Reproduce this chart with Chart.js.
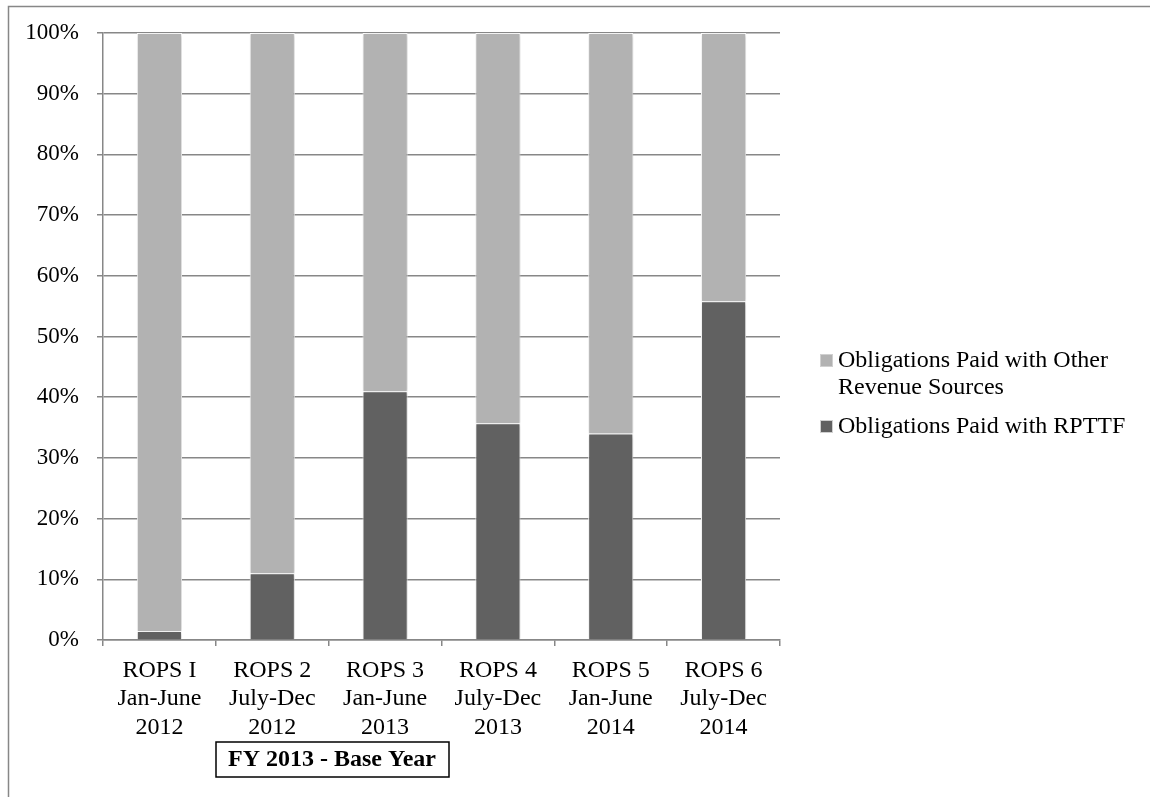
<!DOCTYPE html>
<html>
<head>
<meta charset="utf-8">
<script src="https://cdn.jsdelivr.net/npm/chart.js@4/dist/chart.umd.min.js"></script>
<style>
  body { margin: 0; background: #fff; }
  #wrap { width: 1150px; height: 797px; }
</style>
</head>
<body>
<div id="wrap"><canvas id="myChart" width="1150" height="797"></canvas></div>
<script>
// chart data
var categories = [
    ['ROPS I', 'Jan-June', '2012'],
    ['ROPS 2', 'July-Dec', '2012'],
    ['ROPS 3', 'Jan-June', '2013'],
    ['ROPS 4', 'July-Dec', '2013'],
    ['ROPS 5', 'Jan-June', '2014'],
    ['ROPS 6', 'July-Dec', '2014']
];
var rpttfShare = [1.5, 11, 41, 35.7, 34, 55.8];
var otherShare = [98.5, 89, 59, 64.3, 66, 44.2];
var seriesNames = ['Obligations Paid with RPTTF', 'Obligations Paid with Other Revenue Sources'];
var yTicks = [0, 10, 20, 30, 40, 50, 60, 70, 80, 90, 100];
var noteText = 'FY 2013 - Base Year';

var serif = "'Liberation Serif', 'Times New Roman', serif";
var gridGray = '#878787';

// soft shadow behind the bars
var barShadow = {
    id: 'barShadow',
    beforeDatasetsDraw: function(chart) {
        var c = chart.ctx;
        c.save();
        c.shadowColor = 'rgba(0,0,0,0.22)';
        c.shadowBlur = 4;
        c.shadowOffsetX = 1;
        c.shadowOffsetY = 1;
    },
    afterDatasetsDraw: function(chart) {
        chart.ctx.restore();
    }
};

// outer frame, legend on the right and the base-year box
var extras = {
    id: 'extras',
    afterDraw: function(chart) {
        var c = chart.ctx;
        c.save();
        // frame
        c.strokeStyle = gridGray;
        c.lineWidth = 1.5;
        c.strokeRect(8.5, 6.5, 1160, 820);

        // legend (other first, then RPTTF)
        c.font = '24px ' + serif;
        c.fillStyle = '#000';
        c.textBaseline = 'middle';
        c.textAlign = 'left';
        var order = [1, 0];
        var y = 361;
        order.forEach(function(idx) {
            var ds = chart.data.datasets[idx];
            var words = ds.label.split(' ');
            var lines = [], cur = '';
            words.forEach(function(w) {
                var t = cur ? cur + ' ' + w : w;
                if (c.measureText(t).width > 300 && cur) { lines.push(cur); cur = w; }
                else cur = t;
            });
            lines.push(cur);
            c.fillStyle = ds.backgroundColor;
            c.fillRect(821, y - 6, 11, 11);
            c.strokeStyle = '#d0d0d0';
            c.lineWidth = 1;
            c.strokeRect(820.5, y - 6.5, 12, 12);
            c.fillStyle = '#000';
            lines.forEach(function(l, i) {
                c.fillText(l, 838, y + i * 27);
            });
            y += (lines.length - 1) * 27 + 39;
        });

        // base year box
        c.font = 'bold 24px ' + serif;
        c.textAlign = 'center';
        c.fillText(noteText, 332, 760);
        c.strokeStyle = '#000';
        c.lineWidth = 1.5;
        c.strokeRect(216, 742, 233, 35);
        c.restore();
    }
};

var ctx = document.getElementById('myChart').getContext('2d');
var chart = new Chart(ctx, {
    type: 'bar',
    data: {
        labels: categories,
        datasets: [
            {
                label: seriesNames[0],
                data: rpttfShare,
                backgroundColor: '#616161',
                borderColor: '#ffffff',
                borderWidth: 1,
                categoryPercentage: 1,
                barPercentage: 0.4
            },
            {
                label: seriesNames[1],
                data: otherShare,
                backgroundColor: '#b2b2b2',
                borderColor: '#ffffff',
                borderWidth: 1,
                categoryPercentage: 1,
                barPercentage: 0.4
            }
        ]
    },
    options: {
        responsive: false,
        animation: false,
        layout: { padding: { left: 0, top: 33, right: 370, bottom: 0 } },
        plugins: {
            legend: { display: false },
            tooltip: { enabled: false }
        },
        scales: {
            x: {
                stacked: true,
                afterFit: function(s) { s.height = 157; },
                border: { color: gridGray, width: 1.5 },
                grid: { drawOnChartArea: false, color: gridGray, lineWidth: 1.5, tickLength: 6, offset: true },
                ticks: {
                    color: '#000',
                    padding: 10,
                    maxRotation: 0,
                    autoSkip: false,
                    font: { family: serif, size: 24, lineHeight: 1.19 }
                }
            },
            y: {
                stacked: true,
                min: 0,
                max: 100,
                afterFit: function(s) { s.width = 103; },
                afterBuildTicks: function(s) { s.ticks = yTicks.map(function(v) { return { value: v }; }); },
                border: { color: gridGray, width: 1.5 },
                grid: { color: gridGray, lineWidth: 1.5, tickLength: 6 },
                ticks: {
                    color: '#000',
                    padding: 18,
                    font: { family: serif, size: 23 },
                    callback: function(v) { return v + '%'; }
                }
            }
        }
    },
    plugins: [barShadow, extras]
});
</script>
</body>
</html>
